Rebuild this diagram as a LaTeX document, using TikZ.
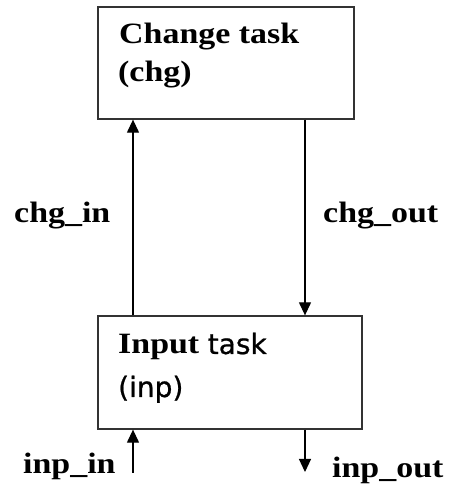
\documentclass[tikz,border=0pt]{standalone}
\usepackage{fontspec}
\setmainfont{Liberation Serif}
\newfontfamily\serifwide[FakeStretch=1.15]{Liberation Serif}
\newfontfamily\sansfont[FakeBold=0.8]{DejaVu Sans}
\usetikzlibrary{arrows.meta}
\definecolor{linegray}{HTML}{333333}
\begin{document}
\begin{tikzpicture}[x=1pt,y=1pt,
  taskbox/.style={draw=linegray,line width=1.3pt,rectangle,inner sep=0pt},
  flow/.style={draw=black,line width=1.2pt,-{Triangle[length=13pt,width=12pt]}},
  lbl/.style={anchor=base west,inner sep=0pt,font=\serifwide\bfseries\fontsize{29.5}{35}\selectfont},
  boxtxt/.style={anchor=base west,inner sep=0pt,font=\fontsize{29.5}{35}\selectfont}]
\useasboundingbox (0,0) rectangle (454,488);
% task boxes
\node[taskbox,minimum width=256pt,minimum height=112pt] (chg) at (226,425) {};
\node[taskbox,minimum width=264pt,minimum height=113pt] (inp) at (230,115.5) {};
% texts inside the boxes
\node[boxtxt] (chgA) at (119,444) {\serifwide\bfseries Change task};
\node[boxtxt] (chgB) at (118,406) {\serifwide\bfseries (chg)};
\node[boxtxt] (inpA) at (118,134) {\serifwide\bfseries Input \sansfont\mdseries\fontsize{28}{34}\selectfont task};
\node[boxtxt] (inpB) at (118,91) {\sansfont\fontsize{28}{34}\selectfont (inp)};
% connector x positions
\coordinate (lx) at (133,0);
\coordinate (rx) at (305,0);
\coordinate (inEnd) at (133,15);
\coordinate (outEnd) at (305,16);
% connectors
\draw[flow] (inp.north -| lx) -- (chg.south -| lx);
\draw[flow] (chg.south -| rx) -- (inp.north -| rx);
\draw[flow] (inEnd) -- (inp.south -| lx);
\draw[flow] (inp.south -| rx) -- (outEnd);
% connector labels
\node[lbl] (chgin) at (14,265) {chg\_in};
\node[lbl] (chgout) at (323,265) {chg\_out};
\node[lbl] (inpin) at (23,15) {inp\_in};
\node[lbl] (inpout) at (332,10) {inp\_out};
\end{tikzpicture}
\end{document}
